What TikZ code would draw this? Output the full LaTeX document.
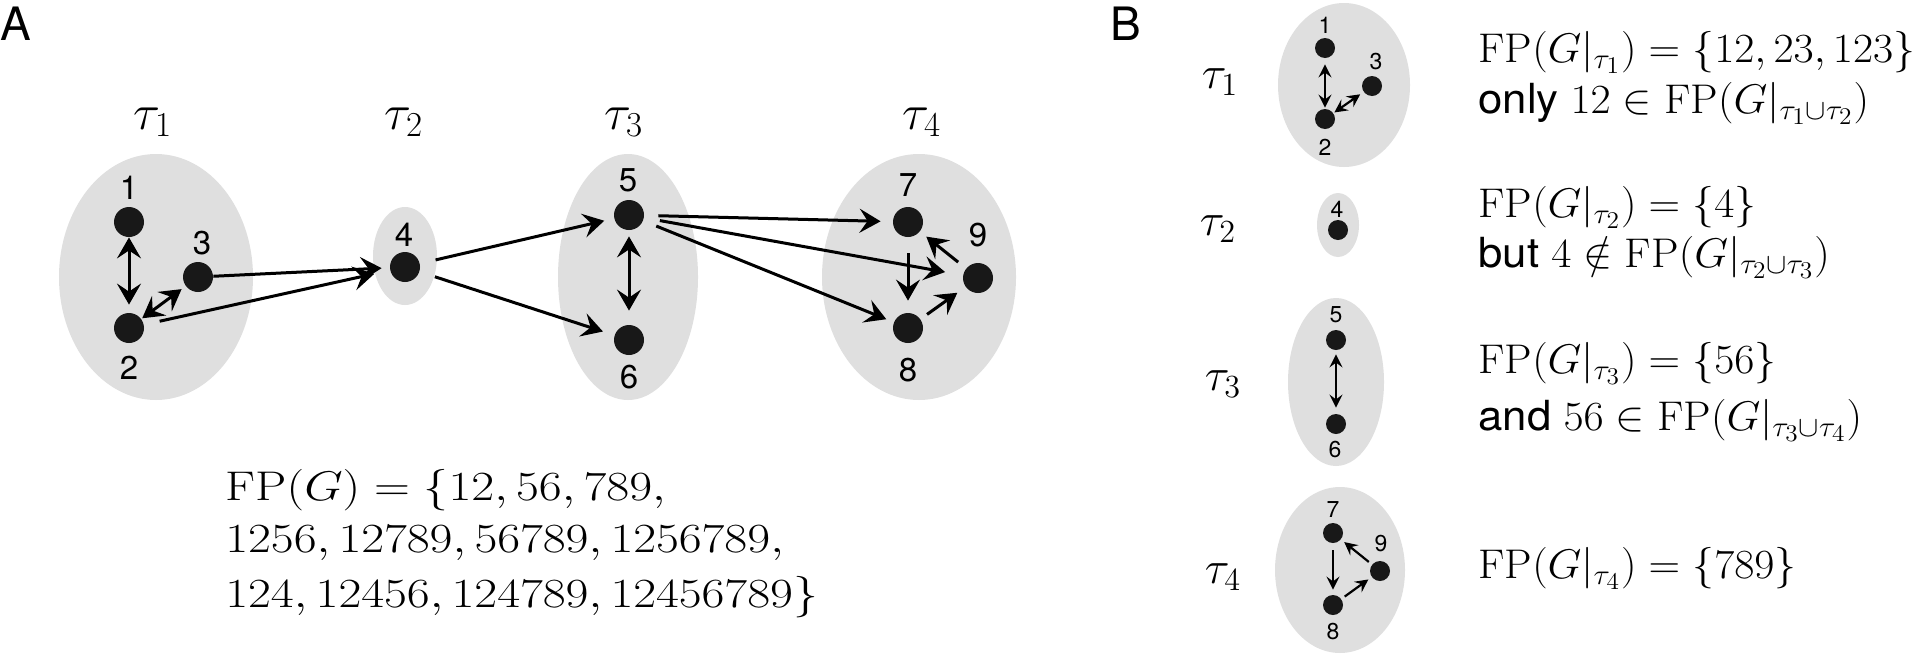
\RequirePackage{fix-cm}
\documentclass[tikz,border=0pt]{standalone}
\usepackage{graphicx}
\usepackage{fontspec}
\setsansfont{TeX Gyre Heros}
\usetikzlibrary{arrows.meta,shapes.geometric}
\definecolor{ellgray}{RGB}{223,223,223}
\definecolor{dotc}{RGB}{24,24,24}
\newcommand{\wideA}[1]{\scalebox{1.2}[1]{#1}}
\newcommand{\wideB}[1]{\scalebox{1.055}[1]{#1}}
\begin{document}
\begin{tikzpicture}[x=0.5pt,y=-0.5pt,
  grp/.style={ellipse, fill=ellgray, inner sep=0pt},
  dotA/.style={circle, fill=dotc, inner sep=0pt, minimum size=15pt},
  dotB/.style={circle, fill=dotc, inner sep=0pt, minimum size=10pt},
  lblA/.style={font=\fontsize{16.5}{18}\sffamily, inner sep=0pt},
  lblB/.style={font=\fontsize{11.5}{13}\sffamily, inner sep=0pt},
  tauA/.style={font=\fontsize{25}{28}\selectfont, inner sep=0pt},
  tauB/.style={font=\fontsize{23}{26}\selectfont, inner sep=0pt},
  txtA/.style={font=\fontsize{20.74}{25}\selectfont, inner sep=0pt, anchor=base west},
  txtB/.style={font=\fontsize{20.74}{25}\selectfont, inner sep=0pt, anchor=base west},
  panel/.style={font=\fontsize{23}{26}\sffamily, inner sep=0pt, anchor=north west},
  headA/.tip={Stealth[length=10.5pt,width=12pt,inset=4pt]},
  headB/.tip={Stealth[length=6.5pt,width=6.5pt,inset=2.4pt]},
  arrA/.style={line width=1.5pt, -headA, shorten >=3.5pt, shorten <=3.5pt},
  darrA/.style={line width=1.5pt, headA-headA, shorten >=3pt, shorten <=3pt},
  arrB/.style={line width=1.1pt, -headB, shorten >=2.5pt, shorten <=2.5pt},
  darrB/.style={line width=1.1pt, headB-headB, shorten >=2pt, shorten <=2pt}
]
\useasboundingbox (0,0) rectangle (1920,654);

% ---------- Panel A ----------
\node[panel] (pA) at (0,7) {A};

\node[grp, minimum width=97pt, minimum height=123pt] (g1) at (156,277) {};
\node[grp, minimum width=32pt, minimum height=49pt] (g2) at (405,256) {};
\node[grp, minimum width=70pt, minimum height=123pt] (g3) at (628,277) {};
\node[grp, minimum width=97pt, minimum height=123pt] (g4) at (919,277) {};

\node[tauA] (ta1) at (153,122) {$\tau_1$};
\node[tauA] (ta2) at (404,122) {$\tau_2$};
\node[tauA] (ta3) at (624,122) {$\tau_3$};
\node[tauA] (ta4) at (922,122) {$\tau_4$};

\node[dotA] (a1) at (129,222) {};
\node[dotA] (a2) at (129,328) {};
\node[dotA] (a3) at (198,277) {};
\node[dotA] (a4) at (405,267) {};
\node[dotA] (a5) at (629,215) {};
\node[dotA] (a6) at (629,340) {};
\node[dotA] (a7) at (908,222) {};
\node[dotA] (a8) at (908,328) {};
\node[dotA] (a9) at (978,278) {};

\node[lblA] (la1) at (129,188) {1};
\node[lblA] (la2) at (129,368) {2};
\node[lblA] (la3) at (202,243) {3};
\node[lblA] (la4) at (404,235) {4};
\node[lblA] (la5) at (628,180) {5};
\node[lblA] (la6) at (629,377) {6};
\node[lblA] (la7) at (908,185) {7};
\node[lblA] (la8) at (908,370) {8};
\node[lblA] (la9) at (978,235) {9};

\draw[darrA, shorten <=0pt, shorten >=4pt] (a1) -- (a2);
\draw[darrA, shorten <=0.5pt, shorten >=2.5pt] (a2) -- (a3);
\draw[arrA, shorten <=0pt, shorten >=4pt] (a3) -- (a4);
\draw[arrA, shorten <=8pt, shorten >=8pt] (a2) -- (a4);
\draw[arrA, shorten <=8pt, shorten >=5pt] (a4) -- (a5);
\draw[arrA, shorten <=8pt, shorten >=6pt] (a4) -- (a6);
\draw[darrA, shorten <=3pt, shorten >=7pt] (a5) -- (a6);
\draw[arrA, shorten <=7pt, shorten >=6pt] (a5) -- (a7);
\draw[arrA, shorten <=8pt, shorten >=9pt] (a5) -- (a9);
\draw[arrA, shorten <=7pt, shorten >=4pt] (a5) -- (a8);
\draw[arrA, shorten <=8pt, shorten >=6pt] (a7) -- (a8);
\draw[arrA, shorten <=4pt, shorten >=5pt] (a8) -- (a9);
\draw[arrA, shorten <=5pt, shorten >=4pt] (a9) -- (a7);

\node[txtA] (fa1) at (225,500) {\wideA{$\mathrm{FP}(G)=\{12,56,789,$}};
\node[txtA] (fa2) at (225,552) {\wideA{$1256,12789,56789,1256789,$}};
\node[txtA] (fa3) at (225,607) {\wideA{$124,12456,124789,12456789\}$}};

% ---------- Panel B ----------
\node[panel] (pB) at (1110,7) {B};

\node[grp, minimum width=66pt, minimum height=82pt] (h1) at (1344,85) {};
\node[grp, minimum width=21pt, minimum height=32pt] (h2) at (1338,225) {};
\node[grp, minimum width=48pt, minimum height=84pt] (h3) at (1336,382) {};
\node[grp, minimum width=65pt, minimum height=83pt] (h4) at (1340,570) {};

\node[tauB] (tb1) at (1220,82) {$\tau_1$};
\node[tauB] (tb2) at (1218,229) {$\tau_2$};
\node[tauB] (tb3) at (1223,384) {$\tau_3$};
\node[tauB] (tb4) at (1223,577) {$\tau_4$};

\node[dotB] (b1) at (1325,48) {};
\node[dotB] (b2) at (1325,119) {};
\node[dotB] (b3) at (1372,86) {};
\node[dotB] (b4) at (1338,230) {};
\node[dotB] (b5) at (1336,340) {};
\node[dotB] (b6) at (1336,424) {};
\node[dotB] (b7) at (1333,533) {};
\node[dotB] (b8) at (1333,605) {};
\node[dotB] (b9) at (1380,571) {};

\node[lblB] (lb1) at (1325,25) {1};
\node[lblB] (lb2) at (1325,147) {2};
\node[lblB] (lb3) at (1376,62) {3};
\node[lblB] (lb4) at (1337,209) {4};
\node[lblB] (lb5) at (1336,315) {5};
\node[lblB] (lb6) at (1335,450) {6};
\node[lblB] (lb7) at (1333,510) {7};
\node[lblB] (lb8) at (1333,632) {8};
\node[lblB] (lb9) at (1381,544) {9};

\draw[darrB, shorten <=3pt, shorten >=0.5pt] (b1) -- (b2);
\draw[darrB, shorten <=0.5pt, shorten >=2pt] (b2) -- (b3);
\draw[darrB, shorten <=2pt, shorten >=3pt] (b5) -- (b6);
\draw[arrB, shorten <=3.5pt, shorten >=2.5pt] (b7) -- (b8);
\draw[arrB, shorten <=2pt, shorten >=2pt] (b8) -- (b9);
\draw[arrB, shorten <=2pt, shorten >=2pt] (b9) -- (b7);

\node[txtB] (fb1) at (1478,62) {\wideB{$\mathrm{FP}(G|_{\tau_1})=\{12,23,123\}$}};
\node[txtB] (fb2) at (1478,113) {\wideB{\sffamily only $12\in\mathrm{FP}(G|_{\tau_1\cup\tau_2})$}};
\node[txtB] (fb3) at (1478,217) {\wideB{$\mathrm{FP}(G|_{\tau_2})=\{4\}$}};
\node[txtB] (fb4) at (1478,267) {\wideB{\sffamily but $4\notin\mathrm{FP}(G|_{\tau_2\cup\tau_3})$}};
\node[txtB] (fb5) at (1478,373) {\wideB{$\mathrm{FP}(G|_{\tau_3})=\{56\}$}};
\node[txtB] (fb6) at (1478,430) {\wideB{\sffamily and $56\in\mathrm{FP}(G|_{\tau_3\cup\tau_4})$}};
\node[txtB] (fb7) at (1478,578) {\wideB{$\mathrm{FP}(G|_{\tau_4})=\{789\}$}};
\end{tikzpicture}
\end{document}
